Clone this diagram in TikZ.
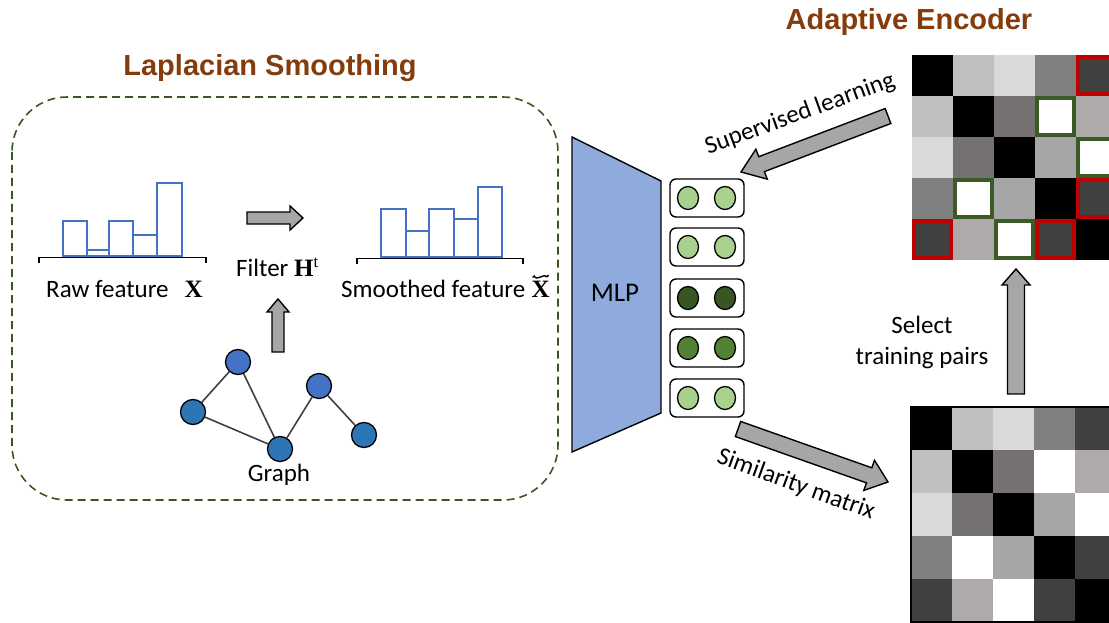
\documentclass[tikz,border=0pt]{standalone}
\usepackage{fontspec}
\setmainfont{Carlito}
\newfontfamily\titlefont{Liberation Sans}
\newfontfamily\symfont{Liberation Serif}
\usetikzlibrary{calc,shapes.geometric}

\definecolor{titlebrown}{HTML}{843C0C}
\definecolor{boxgreen}{HTML}{385723}
\definecolor{histblue}{HTML}{4472C4}
\definecolor{nodeblueA}{HTML}{4472C4}
\definecolor{nodeblueB}{HTML}{2E75B6}
\definecolor{mlpblue}{HTML}{8FAADC}
\definecolor{embLight}{HTML}{A9D18E}
\definecolor{embDark}{HTML}{375623}
\definecolor{embMid}{HTML}{548235}
\definecolor{arrowgray}{HTML}{A6A6A6}
\definecolor{pairred}{HTML}{C00000}
\definecolor{pairgreen}{HTML}{3B5A26}

% block arrow: from, to, half shaft width, half head width, head length
\newcommand\blockarrow[5]{%
  \coordinate (ba-h) at ($(#2)!#5!(#1)$);
  \draw[blockarrowstyle]
    ($(#1)!#3!90:(#2)$) -- ($(ba-h)!#3!90:(#2)$) -- ($(ba-h)!#4!90:(#2)$)
    -- (#2) -- ($(ba-h)!#4!-90:(#2)$) -- ($(ba-h)!#3!-90:(#2)$)
    -- ($(#1)!#3!-90:(#2)$) -- cycle;
}
% bold serif symbols
\newcommand\bsym[1]{{\symfont\bfseries #1}}
% bold X with a tilde above it
\newcommand\xtilde{\tikz[baseline=(xt.base)]{%
  \node[inner sep=0] (xt) {\bsym{X}};
  \draw[line width=1.4pt, line cap=round]
    ([xshift=1.5pt,yshift=3.2pt]xt.north west)
    .. controls ([xshift=5pt,yshift=7.2pt]xt.north west) and ([xshift=-9pt,yshift=0pt]xt.north) .. ([yshift=3.5pt]xt.north)
    .. controls ([xshift=8pt,yshift=7pt]xt.north) and ([xshift=-5pt,yshift=1.2pt]xt.north east) .. ([xshift=-1.5pt,yshift=5pt]xt.north east);}}

\begin{document}
\begin{tikzpicture}[x=1pt,y=-1pt,
  title/.style={font=\titlefont\bfseries\fontsize{29}{33}\selectfont, text=titlebrown, inner sep=0},
  lbl/.style={font=\fontsize{25}{29}\selectfont, inner sep=0},
  blockarrowstyle/.style={fill=arrowgray, draw=black, line width=1.4pt, line join=miter},
  bar/.style={draw=histblue, line width=1.8pt},
  axisline/.style={draw=black, line width=1.5pt},
  gnode/.style={circle, draw=black, line width=1.3pt, minimum size=25, inner sep=0},
  gedge/.style={draw=black!75, line width=1.6pt},
  embbox/.style={draw=black, rounded corners=6, line width=1.4pt, minimum width=74, minimum height=38, fill=white, inner sep=0},
  emb/.style={ellipse, draw=black, line width=1.3pt, minimum width=21, minimum height=23, inner sep=0},
  lsbox/.style={draw=boxgreen, line width=1.6pt, dash pattern=on 8pt off 5pt, rounded corners=55},
  cellhl/.style={line width=4.5pt},
]
\useasboundingbox (0,0) rectangle (1109,623);

% ---------- Laplacian smoothing panel ----------
\node[title] (lstitle) at (270,68) {Laplacian Smoothing};
\draw[lsbox] (12,97) rectangle (558,500);

% raw feature histogram
\foreach \xa/\xb/\t in {63/87/221, 87/109/250, 109/133/221, 133/157/235, 157/182/183}
  \draw[bar] (\xa,256) rectangle (\xb,\t);
\draw[axisline] (39,263) -- (39,257.5) -- (206,257.5) -- (206,263);
\node[lbl, anchor=base west] (rawlbl) at (46,297) {Raw feature\hspace{16pt}\bsym{X}};

% smoothed feature histogram
\foreach \xa/\xb/\t in {381/406/209, 406/429/231, 429/454/209, 454/478/219, 478/502/187}
  \draw[bar] (\xa,257) rectangle (\xb,\t);
\draw[axisline] (357,264) -- (357,258.5) -- (523,258.5) -- (523,264);
\node[lbl, anchor=base west] (smlbl) at (341,297) {Smoothed feature \xtilde};

% filter
\node[lbl, anchor=base west] (filter) at (236,276) {Filter \bsym{H}\raisebox{9pt}{\symfont\fontsize{17}{17}\selectfont t}};
\coordinate (fa1) at (247,218);
\coordinate (fa2) at (303,218);
\blockarrow{fa1}{fa2}{6pt}{12pt}{13pt}
\coordinate (ga1) at (278,352);
\coordinate (ga2) at (278,299);
\blockarrow{ga1}{ga2}{6pt}{11pt}{13pt}

% graph
\node[gnode, fill=nodeblueA] (g1) at (238,362) {};
\node[gnode, fill=nodeblueB] (g2) at (193,412) {};
\node[gnode, fill=nodeblueB] (g3) at (280,449) {};
\node[gnode, fill=nodeblueA] (g4) at (319,386) {};
\node[gnode, fill=nodeblueB] (g5) at (364,435) {};
\draw[gedge] (g1) -- (g2);
\draw[gedge] (g1) -- (g3);
\draw[gedge] (g2) -- (g3);
\draw[gedge] (g3) -- (g4);
\draw[gedge] (g4) -- (g5);
\node[lbl] (graphlbl) at (279,475) {Graph};

% ---------- MLP ----------
\coordinate (m1) at (572,137);
\coordinate (m2) at (661,181);
\coordinate (m3) at (661,413);
\coordinate (m4) at (572,452);
\draw[fill=mlpblue, line width=1.4pt, line join=miter] (m1) -- (m2) -- (m3) -- (m4) -- cycle;
\node[font=\fontsize{27}{30}\selectfont] (mlp) at (615,293) {MLP};

% embeddings
\foreach \i/\y/\c in {1/198/embLight, 2/247/embLight, 3/298/embDark, 4/348/embMid, 5/398/embLight} {
  \node[embbox] (e\i) at (707,\y) {};
  \node[emb, fill=\c] (e\i a) at (688,\y) {};
  \node[emb, fill=\c] (e\i b) at (725,\y) {};
}

% ---------- similarity matrices ----------
\def\cellrows{{000000,C0C0C0,D9D9D9,808080,404040},
  {C0C0C0,000000,767171,FFFFFF,AEAAAA},
  {D9D9D9,767171,000000,A6A6A6,FFFFFF},
  {808080,FFFFFF,A6A6A6,000000,404040},
  {404040,AEAAAA,FFFFFF,404040,000000}}

% top matrix (selected pairs)
\foreach \rowvals [count=\r from 0] in \cellrows {
  \foreach \cv [count=\k from 0] in \rowvals {
    \definecolor{cellcol}{HTML}{\cv}
    \fill[cellcol] (912+41*\k,55+41*\r) rectangle ++(41,41);
  }
}
% bottom matrix
\foreach \rowvals [count=\r from 0] in \cellrows {
  \foreach \cv [count=\k from 0] in \rowvals {
    \definecolor{cellcol}{HTML}{\cv}
    \fill[cellcol] (911+41*\k,407+43*\r) rectangle ++(41,43);
  }
}
\draw[line width=1.6pt] (911,407) rectangle (1116,622);

% dissimilar pairs in red, similar pairs in green
\foreach \r/\k in {0/4, 4/0, 3/4, 4/3}
  \draw[cellhl, draw=pairred] (912+41*\k+2.2,55+41*\r+2.2) rectangle ++(36.6,36.6);
\foreach \r/\k in {1/3, 3/1, 2/4, 4/2}
  \draw[cellhl, draw=pairgreen] (912+41*\k+2.2,55+41*\r+2.2) rectangle ++(36.6,36.6);

\node[title] (aetitle) at (909,22) {Adaptive Encoder};

% ---------- arrows between stages ----------
\coordinate (sl1) at (888,116);
\coordinate (sl2) at (741,172);
\blockarrow{sl1}{sl2}{8pt}{16pt}{22pt}
\node[lbl, rotate=20] (sllbl) at (800,114) {Supervised learning};

\coordinate (sm1) at (738,429);
\coordinate (sm2) at (888,482);
\blockarrow{sm1}{sm2}{8pt}{16pt}{20pt}
\node[lbl, rotate=-20] (smxlbl) at (796,485) {Similarity matrix};

\coordinate (tp1) at (1016,394);
\coordinate (tp2) at (1016,269);
\blockarrow{tp1}{tp2}{8.5pt}{14pt}{16pt}
\node[lbl, align=center, font=\fontsize{25}{31}\selectfont] (tplbl) at (922,342) {Select\\training pairs};
\end{tikzpicture}
\end{document}
